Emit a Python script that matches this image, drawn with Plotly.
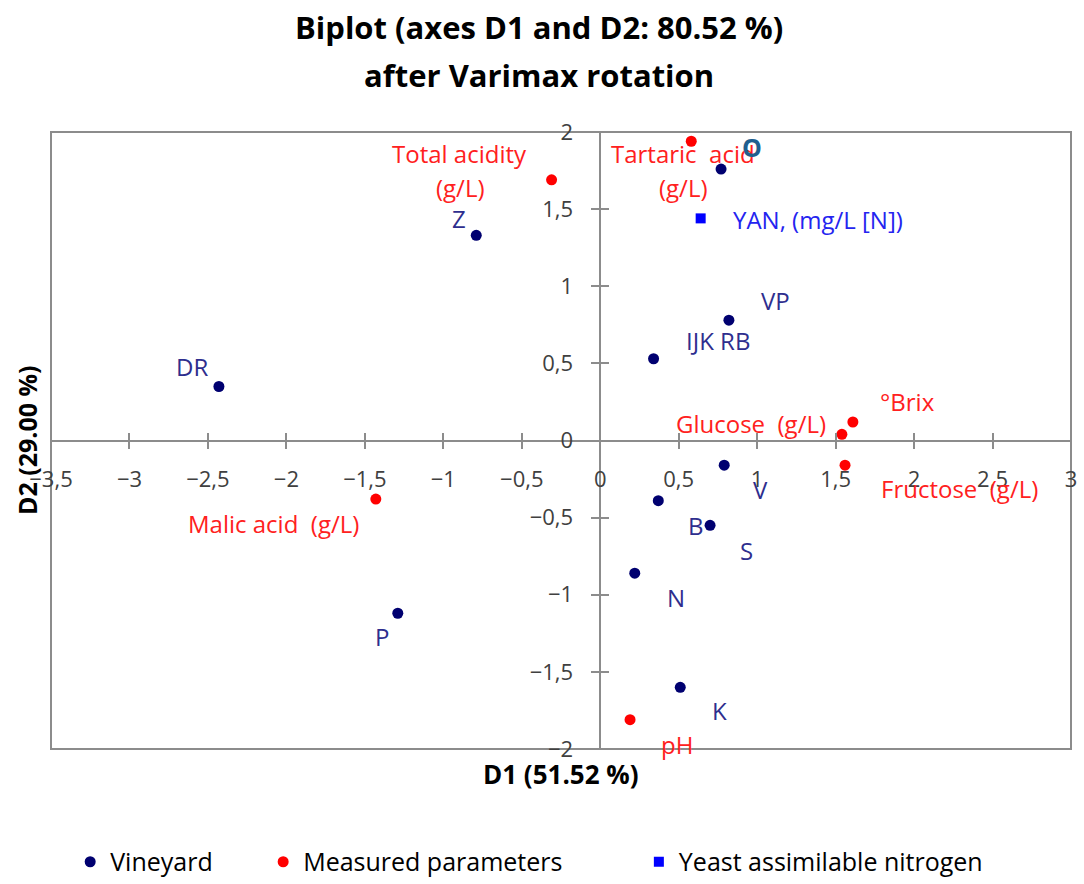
import plotly.graph_objects as go

# ---------------- data ----------------
vineyard_x = [-2.43, -0.79, 0.77, 0.82, 0.34, 0.79, 0.37, 0.70, 0.22, 0.51, -1.29]
vineyard_y = [0.35, 1.33, 1.76, 0.78, 0.53, -0.16, -0.39, -0.55, -0.86, -1.60, -1.12]

measured_x = [-0.31, 0.58, 1.61, 1.54, 1.56, -1.43, 0.19]
measured_y = [1.69, 1.94, 0.12, 0.04, -0.16, -0.38, -1.81]

yan_x = [0.64]
yan_y = [1.44]

vineyard_labels = ["DR", "Z", "VP", "IJK RB", "V", "B", "S", "N", "K", "P"]
vineyard_label_x = [-2.60, -0.90, 1.12, 0.75, 1.02, 0.61, 0.93, 0.48, 0.76, -1.39]
vineyard_label_y = [0.48, 1.44, 0.91, 0.65, -0.32, -0.55, -0.71, -1.02, -1.75, -1.27]

o_label = "O"
o_label_x = 0.97
o_label_y = 1.90

measured_labels = ["Total acidity", "(g/L)", "Tartaric\u00a0 acid", "(g/L)", "°Brix",
                   "Glucose\u00a0 (g/L)", "Fructose\u00a0 (g/L)", "Malic acid\u00a0 (g/L)", "pH"]
measured_label_x = [-0.90, -0.89, 0.53, 0.53, 1.96, 0.96, 2.29, -2.08, 0.49]
measured_label_y = [1.86, 1.64, 1.86, 1.64, 0.25, 0.11, -0.31, -0.54, -1.97]

yan_labels = ["YAN, (mg/L [N])"]
yan_label_x = [1.39]
yan_label_y = [1.43]

legend_names = ["Vineyard", "Measured parameters", "Yeast assimilable nitrogen"]

x_range = [-3.5, 3]
y_range = [-2, 2]

title_line1 = "Biplot (axes D1 and D2: 80.52 %)"
title_line2 = "after Varimax rotation"
x_title = "D1 (51.52 %)"
y_title = "D2 (29.00 %)"

# ---------------- style ----------------
FONT = "Open Sans"
GRAY = "#8c8c8c"
NAVY = "#000070"
NAVY_TXT = "#2e2e8e"
RED = "#ff0000"
RED_TXT = "#ff2020"
BLUE = "#0000ff"
BLUE_TXT = "#2424f0"
LABEL_SIZE = 24
NBSP = "\u00a0"

fig = go.Figure()
fig.add_trace(go.Scatter(x=vineyard_x, y=vineyard_y, mode="markers",
                         name=legend_names[0] + NBSP * 7,
                         marker=dict(color=NAVY, size=11, symbol="circle")))
fig.add_trace(go.Scatter(x=measured_x, y=measured_y, mode="markers",
                         name=legend_names[1] + NBSP * 11,
                         marker=dict(color=RED, size=11, symbol="circle")))
fig.add_trace(go.Scatter(x=yan_x, y=yan_y, mode="markers", name=legend_names[2],
                         marker=dict(color=BLUE, size=10, symbol="square")))
# dummy trace so the overlay axes (inner tick halves) are drawn
fig.add_trace(go.Scatter(x=[None], y=[None], xaxis="x2", yaxis="y2", showlegend=False,
                         hoverinfo="skip"))

ann = []
for t, x, y in zip(vineyard_labels, vineyard_label_x, vineyard_label_y):
    ann.append(dict(text=t, x=x, y=y, xref="x", yref="y", showarrow=False,
                    font=dict(family=FONT, size=LABEL_SIZE, color=NAVY_TXT)))
for t, x, y in zip(measured_labels, measured_label_x, measured_label_y):
    ann.append(dict(text=t, x=x, y=y, xref="x", yref="y", showarrow=False,
                    font=dict(family=FONT, size=LABEL_SIZE, color=RED_TXT)))
ann.append(dict(text="<b>" + o_label + "</b>", x=o_label_x, y=o_label_y, xref="x", yref="y",
                showarrow=False, font=dict(family=FONT, size=25, color="#1f5f8f")))
for t, x, y in zip(yan_labels, yan_label_x, yan_label_y):
    ann.append(dict(text=t, x=x, y=y, xref="x", yref="y", showarrow=False,
                    font=dict(family=FONT, size=LABEL_SIZE, color=BLUE_TXT)))

# titles
ann.append(dict(text="<b>" + title_line1 + "</b>", x=0.4787, y=1.1700, xref="paper", yref="paper",
                showarrow=False, yanchor="middle", font=dict(family=FONT, size=31, color="black")))
ann.append(dict(text="<b>" + title_line2 + "</b>", x=0.4787, y=1.0925, xref="paper", yref="paper",
                showarrow=False, yanchor="middle", font=dict(family=FONT, size=31, color="black")))
ann.append(dict(text="<b>" + x_title + "</b>", x=0.5, y=-0.040, xref="paper", yref="paper",
                showarrow=False, yanchor="middle", font=dict(family=FONT, size=26, color="black")))
ann.append(dict(text="<b>" + y_title + "</b>", x=-0.024, y=0.5, xref="paper", yref="paper",
                showarrow=False, textangle=-90, xanchor="center", yanchor="middle",
                font=dict(family=FONT, size=25, color="black")))

y_pos = (0 - x_range[0]) / (x_range[1] - x_range[0])
x_pos = (0 - y_range[0]) / (y_range[1] - y_range[0])

tickfont = dict(family=FONT, size=22, color="#404040")

fig.update_layout(
    width=1084, height=884,
    margin=dict(l=51, r=7, t=132, b=135),
    separators=", ",
    plot_bgcolor="white", paper_bgcolor="white",
    annotations=ann,
    showlegend=True,
    legend=dict(orientation="h", x=0.0188, xanchor="left", yref="container", y=0.0249,
                yanchor="middle", font=dict(family=FONT, size=25, color="black"), itemwidth=30),
    xaxis=dict(range=x_range, dtick=0.5, tick0=0, anchor="free", position=x_pos,
               showline=True, linecolor=GRAY, linewidth=1.5, ticks="outside", ticklen=8,
               tickcolor=GRAY, tickwidth=1.5, showgrid=False, zeroline=False,
               tickfont=tickfont, ticklabelstandoff=11, domain=[0, 1]),
    yaxis=dict(range=y_range, dtick=0.5, tick0=0, anchor="free", position=y_pos,
               showline=True, linecolor=GRAY, linewidth=1.5, ticks="outside", ticklen=8,
               tickcolor=GRAY, tickwidth=1.5, showgrid=False, zeroline=False,
               tickfont=tickfont, ticklabelstandoff=14, domain=[0, 1]),
    xaxis2=dict(range=x_range, dtick=0.5, tick0=0, overlaying="x", anchor="free", position=x_pos,
                showline=False, ticks="inside", ticklen=8, tickcolor=GRAY, tickwidth=1.5,
                showticklabels=False, showgrid=False, zeroline=False),
    yaxis2=dict(range=y_range, dtick=0.5, tick0=0, overlaying="y", anchor="free", position=y_pos,
                showline=False, ticks="inside", ticklen=8, tickcolor=GRAY, tickwidth=1.5,
                showticklabels=False, showgrid=False, zeroline=False),
    shapes=[dict(type="rect", xref="paper", yref="paper", x0=0, x1=1, y0=0, y1=1,
                 line=dict(color=GRAY, width=2), layer="below")],
)

fig.write_html("out.html")
